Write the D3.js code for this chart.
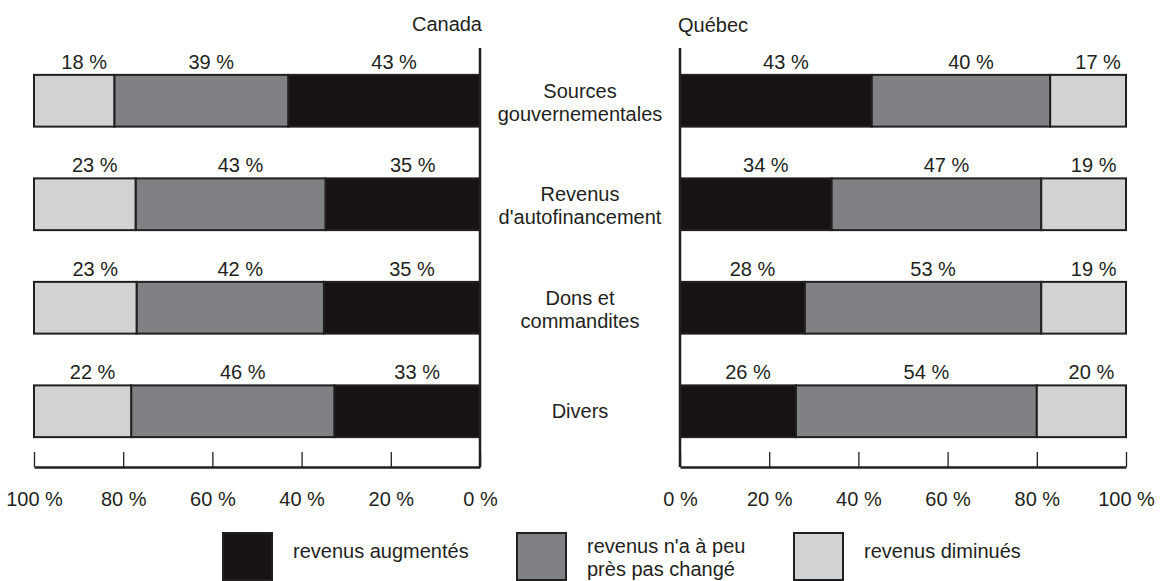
<!DOCTYPE html>
<html>
<head>
<meta charset="utf-8">
<script src="https://cdn.jsdelivr.net/npm/d3@7"></script>
<style>
  body { margin: 0; background: #fff; }
  svg text { font-family: "Liberation Sans", Arial, sans-serif; font-size: 20px; fill: #231f20; }
</style>
</head>
<body>
<svg class="chart"></svg>
<script>
// categories, one row each (line breaks as in the original)
var categories = ["Sources gouvernementales", "Revenus d'autofinancement", "Dons et commandites", "Divers"];
var categoryLines = [["Sources", "gouvernementales"], ["Revenus", "d'autofinancement"], ["Dons et", "commandites"], ["Divers"]];

// series keys and legend names
var keys = ["augmentes", "inchange", "diminues"];
var legendNames = [["revenus augmentés"], ["revenus n'a à peu", "près pas changé"], ["revenus diminués"]];

// Canada values (%)
var canadaAugmentes = [43, 35, 35, 33];
var canadaInchange  = [39, 43, 42, 46];
var canadaDiminues  = [18, 23, 23, 22];

// Québec values (%)
var quebecAugmentes = [43, 34, 28, 26];
var quebecInchange  = [40, 47, 53, 54];
var quebecDiminues  = [17, 19, 19, 20];

var tickValues = [0, 0.2, 0.4, 0.6, 0.8, 1];

var width = 1164, height = 581;

var chart = d3.select('.chart')
  .attr('width', width)
  .attr('height', height);

var color = d3.scaleOrdinal().domain(keys).range(['#171314', '#808184', '#d1d2d4']);

var y = d3.scaleBand().domain(categories).range([49, 463]).paddingInner(0.5).paddingOuter(0.25);

var xCanada = d3.scaleLinear().domain([0, 1]).range([480, 34]);
var xQuebec = d3.scaleLinear().domain([0, 1]).range([680, 1126]);

function rows(a, b, c) {
  return categories.map(function(cat, i) {
    return {cat: cat, augmentes: a[i], inchange: b[i], diminues: c[i]};
  });
}

// stackOffsetExpand so each row fills 100 %
var stack = d3.stack().keys(keys).offset(d3.stackOffsetExpand);

function panel(data, x) {
  var series = stack(data);
  var g = chart.append('g');

  var layer = g.selectAll('.layer')
    .data(series)
    .enter().append('g')
      .attr('class', 'layer')
      .attr('fill', function(d) { return color(d.key); });

  layer.selectAll('rect')
    .data(function(d) { return d; })
    .enter().append('rect')
      .attr('x', function(d) { return Math.min(x(d[0]), x(d[1])); })
      .attr('y', function(d) { return y(d.data.cat); })
      .attr('width', function(d) { return Math.abs(x(d[1]) - x(d[0])); })
      .attr('height', y.bandwidth())
      .attr('stroke', '#231f20')
      .attr('stroke-width', 2);

  // value labels above each segment
  series.forEach(function(s) {
    g.selectAll(null)
      .data(s)
      .enter().append('text')
        .attr('x', function(d) { return (x(d[0]) + x(d[1])) / 2 + 10; })
        .attr('y', function(d) { return y(d.data.cat) - 6; })
        .attr('text-anchor', 'middle')
        .text(function(d) { return d.data[s.key] + ' %'; });
  });

  // vertical zero line
  g.append('line')
    .attr('x1', x(0)).attr('x2', x(0))
    .attr('y1', 48).attr('y2', 467)
    .attr('stroke', '#231f20')
    .attr('stroke-width', 2.5);

  // bottom axis, ticks pointing up, labels far below
  var axis = g.append('g')
    .attr('class', 'axis')
    .attr('transform', 'translate(0,467)')
    .call(d3.axisBottom(x)
      .tickValues(tickValues)
      .tickSize(-15)
      .tickSizeOuter(0)
      .tickPadding(25)
      .tickFormat(function(d) { return Math.round(d * 100) + ' %'; }));
  axis.select('.domain').attr('stroke', '#231f20').attr('stroke-width', 2.5);
  axis.selectAll('.tick line').attr('stroke', '#231f20').attr('stroke-width', 1.3);
  axis.selectAll('.tick text').attr('fill', '#231f20').attr('font-family', null).attr('font-size', null);
}

panel(rows(canadaAugmentes, canadaInchange, canadaDiminues), xCanada);
panel(rows(quebecAugmentes, quebecInchange, quebecDiminues), xQuebec);

// panel titles
chart.append('text').attr('x', 482).attr('y', 31).attr('text-anchor', 'end').text('Canada');
chart.append('text').attr('x', 678).attr('y', 32).text('Québec');

// category labels in the middle
var cx = (xCanada(0) + xQuebec(0)) / 2;
categories.forEach(function(cat, i) {
  var lines = categoryLines[i];
  var mid = y(cat) + y.bandwidth() / 2;
  var t = chart.append('text')
    .attr('text-anchor', 'middle')
    .attr('x', cx)
    .attr('y', mid + 7 - (lines.length - 1) * 10);
  lines.forEach(function(l, j) {
    t.append('tspan').attr('x', cx).attr('dy', j === 0 ? 0 : 23).text(l);
  });
});

// legend
var legendX = [223, 517, 794];
var legend = chart.selectAll('.legend')
  .data(keys)
  .enter().append('g')
    .attr('class', 'legend')
    .attr('transform', function(d, i) { return 'translate(' + legendX[i] + ',533)'; });

legend.append('rect')
  .attr('width', 49)
  .attr('height', 47)
  .attr('fill', function(d) { return color(d); })
  .attr('stroke', '#231f20')
  .attr('stroke-width', 2);

legend.append('text')
  .attr('x', 70)
  .attr('y', function(d, i) { return legendNames[i].length > 1 ? 20 : 25; })
  .each(function(d, i) {
    var t = d3.select(this);
    legendNames[i].forEach(function(l, j) {
      t.append('tspan').attr('x', 70).attr('dy', j === 0 ? 0 : 22.5).text(l);
    });
  });
</script>
</body>
</html>
